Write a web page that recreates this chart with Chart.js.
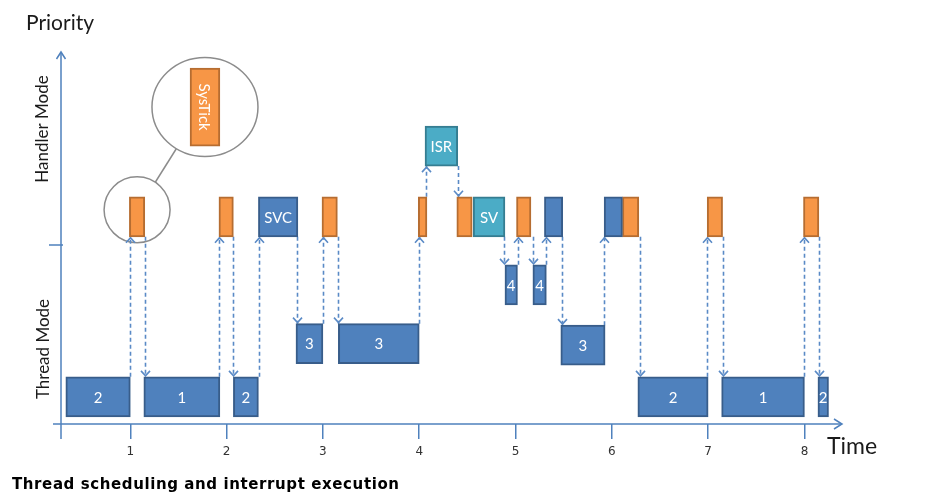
<!DOCTYPE html>
<html><head><meta charset="utf-8">
<script src="https://cdn.jsdelivr.net/npm/chart.js@4.4.1/dist/chart.umd.min.js"></script>
<style>
html,body{margin:0;padding:0;background:#fff;}
#wrap{position:relative;width:949px;height:503px;overflow:hidden;}
#c{position:absolute;left:0;top:0;}
#cap{position:absolute;left:12px;top:475px;font:bold 15px "DejaVu Sans",Verdana,sans-serif;letter-spacing:0.6px;color:#000;white-space:nowrap;}
</style></head><body>
<div id="wrap"><canvas id="c" width="949" height="503"></canvas><div id="cap">Thread scheduling and interrupt execution</div></div>
<script>
// ---- priority levels (y values) ----
const T = 0.73, L3 = 2.16, L3b = 2.12, L4 = 3.74, H = 5.57, ISR = 7.47, ZOOM = 8.52;

// ---- tick labels ----
const xTicks = [1, 2, 3, 4, 5, 6, 7, 8];

// ---- thread / blue boxes ----
const threadLabels = ['2', '1', '2', '3', '3', '4', '4', '3', '2', '1', '2', 'SVC', '', ''];
const threadStart  = [0.33, 1.14, 2.07, 2.72, 3.16, 4.89, 5.18, 5.47, 6.27, 7.14, 8.14, 2.33, 5.30, 5.92];
const threadEnd    = [1.00, 1.93, 2.33, 3.00, 4.00, 5.02, 5.32, 5.93, 7.00, 8.00, 8.25, 2.74, 5.49, 6.11];
const threadPrio   = [T, T, T, L3, L3, L4, L4, L3b, T, T, T, H, H, H];

// ---- SysTick / orange boxes ----
const sysTickStart = [0.99, 1.92, 2.99, 3.99, 4.39, 5.01, 6.11, 6.99, 7.99];
const sysTickEnd   = [1.15, 2.07, 3.15, 4.08, 4.55, 5.16, 6.28, 7.15, 8.15];
const sysTickPrio  = [H, H, H, H, H, H, H, H, H];

// ---- ISR / SV teal boxes ----
const isrLabels = ['ISR', 'SV'];
const isrStart  = [4.06, 4.56];
const isrEnd    = [4.40, 4.89];
const isrPrio   = [ISR, H];

// ---- magnified SysTick ----
const zoomLabels = ['SysTick'];
const zoomStart  = [1.62];
const zoomEnd    = [1.93];
const zoomPrio   = [ZOOM];

// ---- context switches (dashed arrows) ----
const transTime = [1.00, 1.15, 1.92, 2.07, 2.34, 2.73, 3.00, 3.16, 4.00, 4.07, 4.40, 4.875, 5.03, 5.18, 5.32, 5.48, 5.92, 6.29, 6.99, 7.15, 8.00, 8.15];
const transFrom = [T, H, T, H, T, H, L3, H, L3, H, ISR, H, L4, H, L4, H, L3b, H, T, H, T, H];
const transTo   = [H, T, H, T, H, L3, H, L3, H, ISR, H, L4, H, L4, H, L3b, H, T, H, T, H, T];

const AXIS = '#4F81BD';
const BAR_H = 40;

function pts(s, e, p) { return s.map((v, i) => ({ x: [v, e[i]], y: p[i] })); }

const arrowsPlugin = {
  id: 'arrows',
  beforeDatasetsDraw(chart) {
    const ctx = chart.ctx, xs = chart.scales.x, ys = chart.scales.y, ca = chart.chartArea;
    ctx.save();
    // axes
    ctx.strokeStyle = AXIS; ctx.lineWidth = 1.5; ctx.setLineDash([]);
    ctx.beginPath();
    ctx.moveTo(ca.left, ca.bottom + 15); ctx.lineTo(ca.left, ca.top);
    ctx.moveTo(ca.left - 8, ca.bottom); ctx.lineTo(ca.right, ca.bottom);
    ctx.moveTo(ca.left - 12, 245); ctx.lineTo(ca.left + 2, 245);
    ctx.stroke();
    ctx.beginPath();
    ctx.moveTo(ca.left - 4.5, ca.top + 7); ctx.lineTo(ca.left, ca.top); ctx.lineTo(ca.left + 4.5, ca.top + 7);
    ctx.moveTo(ca.right - 8, ca.bottom - 5); ctx.lineTo(ca.right, ca.bottom); ctx.lineTo(ca.right - 8, ca.bottom + 5);
    ctx.stroke();

    // circles
    const tickMeta = chart.getDatasetMeta(1).data[0];
    const zoomMeta = chart.getDatasetMeta(3).data[0];
    ctx.strokeStyle = '#8c8c8c'; ctx.lineWidth = 1.5;
    const c1x = (tickMeta.x + tickMeta.base) / 2, c1y = tickMeta.y - 7, r1 = 33;
    const c2x = (zoomMeta.x + zoomMeta.base) / 2, c2y = zoomMeta.y, r2 = 51;
    ctx.beginPath(); ctx.arc(c1x, c1y, r1, 0, Math.PI * 2); ctx.stroke();
    ctx.beginPath(); ctx.ellipse(c2x, c2y, 53, 49.5, 0, 0, Math.PI * 2); ctx.stroke();
    const ang = Math.atan2(c2y - c1y, c2x - c1x);
    ctx.beginPath();
    ctx.moveTo(c1x + r1 * Math.cos(ang), c1y + r1 * Math.sin(ang));
    ctx.lineTo(c2x - 52 * Math.cos(ang), c2y - 50 * Math.sin(ang));
    ctx.stroke();

    // dashed context-switch arrows
    ctx.strokeStyle = '#5A8AC6'; ctx.lineWidth = 1.6;
    transTime.forEach((t, i) => {
      const x = Math.round(xs.getPixelForValue(t)) + 0.5;
      const up = transTo[i] > transFrom[i];
      const y1 = ys.getPixelForValue(transFrom[i]) + (up ? -BAR_H / 2 : BAR_H / 2);
      const y2 = ys.getPixelForValue(transTo[i]) + (up ? BAR_H / 2 : -BAR_H / 2);
      ctx.setLineDash([4, 3]);
      ctx.beginPath(); ctx.moveTo(x, y1); ctx.lineTo(x, y2); ctx.stroke();
      ctx.setLineDash([]);
      const d = up ? 6 : -6;
      ctx.beginPath();
      ctx.moveTo(x - 4.5, y2 + d); ctx.lineTo(x, y2 + (up ? 1 : -1)); ctx.lineTo(x + 4.5, y2 + d);
      ctx.stroke();
    });
    ctx.restore();
  },
  afterDatasetsDraw(chart) {
    const ctx = chart.ctx;
    ctx.save();
    ctx.fillStyle = '#ffffff';
    ctx.textAlign = 'center'; ctx.textBaseline = 'middle';
    ctx.font = '15px Lato, "Open Sans", sans-serif';
    chart.data.datasets.forEach((ds, di) => {
      if (!ds.boxLabels) return;
      chart.getDatasetMeta(di).data.forEach((el, i) => {
        const lab = ds.boxLabels[i];
        if (!lab) return;
        const cx = (el.x + el.base) / 2, cy = el.y;
        if (ds.rotateLabel) {
          ctx.save(); ctx.translate(cx, cy); ctx.rotate(Math.PI / 2);
          ctx.fillText(lab, 0, 1); ctx.restore();
        } else {
          ctx.fillText(lab, cx, cy + 1);
        }
      });
    });
    // free texts
    ctx.fillStyle = '#1a1a1a';
    ctx.textAlign = 'left'; ctx.textBaseline = 'alphabetic';
    ctx.font = '21px Lato, sans-serif';
    ctx.fillText('Priority', 26, 30);
    ctx.font = '23px Lato, sans-serif';
    ctx.fillText('Time', 827, 454);
    ctx.font = '17px Lato, sans-serif';
    ctx.textAlign = 'center'; ctx.textBaseline = 'middle';
    ctx.save(); ctx.translate(43, 129); ctx.rotate(-Math.PI / 2); ctx.fillText('Handler Mode', 0, 0); ctx.restore();
    ctx.save(); ctx.translate(44, 349); ctx.rotate(-Math.PI / 2); ctx.fillText('Thread Mode', 0, 0); ctx.restore();
    ctx.restore();
  }
};

const common = { borderWidth: 2, borderSkipped: false, grouped: false, barThickness: BAR_H };

new Chart(document.getElementById('c'), {
  type: 'bar',
  data: {
    datasets: [
      Object.assign({ label: 'Threads', data: pts(threadStart, threadEnd, threadPrio), boxLabels: threadLabels,
        backgroundColor: '#4F81BD', borderColor: '#385D8A' }, common),
      Object.assign({ label: 'SysTick', data: pts(sysTickStart, sysTickEnd, sysTickPrio),
        backgroundColor: '#F79646', borderColor: '#B66D31' }, common),
      Object.assign({ label: 'ISR', data: pts(isrStart, isrEnd, isrPrio), boxLabels: isrLabels,
        backgroundColor: '#4BACC6', borderColor: '#357D91' }, common),
      Object.assign({}, common, { label: 'Zoom', data: pts(zoomStart, zoomEnd, zoomPrio), boxLabels: zoomLabels, rotateLabel: true,
        backgroundColor: '#F79646', borderColor: '#B66D31', barThickness: 78 })
    ]
  },
  options: {
    indexAxis: 'y',
    responsive: false,
    animation: false,
    layout: { padding: { left: 61, top: 52, right: 107, bottom: 0 } },
    plugins: { legend: { display: false }, tooltip: { enabled: false }, title: { display: false } },
    scales: {
      x: {
        type: 'linear', min: 0.28, max: 8.39, offset: false,
        afterBuildTicks: (s) => { s.ticks = xTicks.map(v => ({ value: v })); },
        afterFit: (s) => { s.height = 79; },
        grid: { drawOnChartArea: false, drawTicks: true, tickLength: 15, color: AXIS, lineWidth: 1.5, offset: false },
        border: { display: false },
        ticks: { font: { family: 'DejaVu Sans', size: 12 }, color: '#333', padding: 6, maxRotation: 0 }
      },
      y: { type: 'linear', min: 0, max: 10, display: false, offset: false, grid: { offset: false } }
    }
  },
  plugins: [arrowsPlugin]
});
</script>
</body></html>
